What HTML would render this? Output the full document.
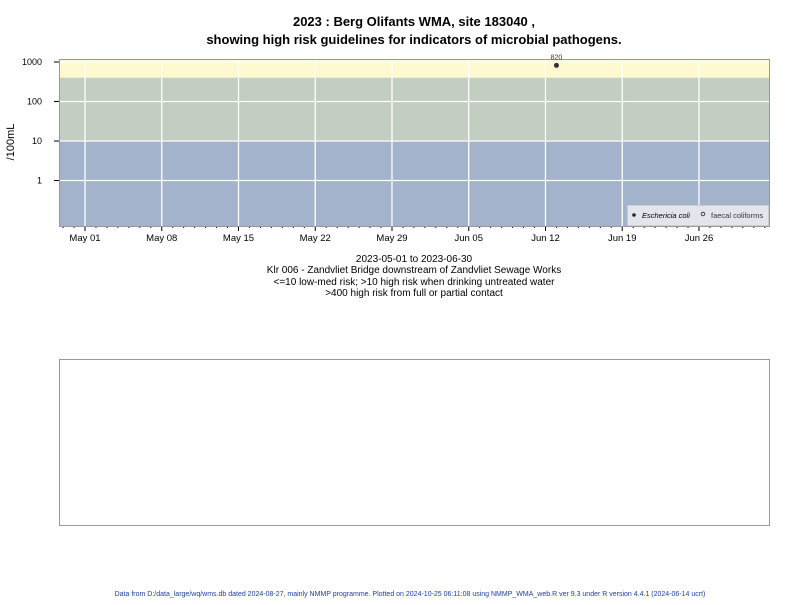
<!DOCTYPE html>
<html><head><meta charset="utf-8"><style>
body{margin:0;background:#fff;font-family:"Liberation Sans",sans-serif}
</style></head><body>
<svg width="800" height="600" xmlns="http://www.w3.org/2000/svg" font-family="Liberation Sans, sans-serif">
<text x="414" y="26" text-anchor="middle" font-size="13" font-weight="bold">2023 : Berg Olifants WMA, site 183040 ,</text>
<text x="414" y="44" text-anchor="middle" font-size="13" font-weight="bold">showing high risk guidelines for indicators of microbial pathogens.</text>
<g id="plot"></g>
<text x="14" y="142" transform="rotate(-90 14 142)" text-anchor="middle" font-size="11">/100mL</text>
<text x="414" y="262" text-anchor="middle" font-size="10">2023-05-01 to 2023-06-30</text>
<text x="414" y="273" text-anchor="middle" font-size="10">Klr 006 - Zandvliet Bridge downstream of Zandvliet Sewage Works</text>
<text x="414" y="285" text-anchor="middle" font-size="10">&lt;=10 low-med risk; &gt;10 high risk when drinking untreated water</text>
<text x="414" y="296" text-anchor="middle" font-size="10">&gt;400 high risk from full or partial contact</text>
<rect x="59.5" y="359.5" width="710" height="166" fill="none" stroke="#999"/>
<text x="410" y="596" text-anchor="middle" font-size="7" fill="#1f3f9f">Data from D:/data_large/wq/wms.db dated 2024-08-27, mainly NMMP programme. Plotted on 2024-10-25 06:11:08 using NMMP_WMA_web.R ver 9.3 under R version 4.4.1 (2024-06-14 ucrt)</text>
</svg>
<script>
const yTicks=[1,10,100,1000];
const yTickLabels=["1","10","100","1000"];
const xTickDays=[0,7,14,21,28,35,42,49,56];
const xTickLabels=["May 01","May 08","May 15","May 22","May 29","Jun 05","Jun 12","Jun 19","Jun 26"];
const ecoliDays=[43];
const ecoliValues=[820];
const ecoliLabels=["820"];
const thresholds=[10,400];
const L=59,R=769,T=59,B=226;
function ys(v){return 180.5-Math.log10(v)*39.5;}
function xs(d){return 85+d*10.964;}
const g=document.getElementById('plot');const NS="http://www.w3.org/2000/svg";
function el(t,a,p){const e=document.createElementNS(NS,t);for(const k in a)e.setAttribute(k,a[k]);(p||g).appendChild(e);return e;}
let r;
r=el('rect',{x:L,y:T,width:R-L,height:ys(thresholds[1])-T,fill:'#fff9d0'});


r=el('rect',{x:L,y:ys(thresholds[1]),width:R-L,height:ys(thresholds[0])-ys(thresholds[1]),fill:'#c3cdc1'});


r=el('rect',{x:L,y:ys(thresholds[0]),width:R-L,height:B-ys(thresholds[0]),fill:'#a2b3cb'});


yTicks.forEach((v,i)=>{const y=ys(v);
 let l=el('line',{x1:L,x2:R,y1:y,y2:y,stroke:'#fff','stroke-width':1.3});
 
 
 l=el('line',{x1:L-5,x2:L,y1:y,y2:y,stroke:'#000'});
 
 
 const t=el('text',{x:L-17,y:y+3,'text-anchor':'end','font-size':9});t.textContent=yTickLabels[i];
 
 });
for(let d=-2;d<=63;d++){const x=xs(d);if(x<L||x>R)continue;
 const major=xTickDays.includes(d);
 const l=el('line',{x1:x,x2:x,y1:B,y2:B+(major?5:2),stroke:'#000'});
 
 }
xTickDays.forEach((d,i)=>{const x=xs(d);
 const l=el('line',{x1:x,x2:x,y1:T,y2:B,stroke:'#fff','stroke-width':1.3});
 
 
 const t=el('text',{x:x,y:B+15,'text-anchor':'middle','font-size':9.5});t.textContent=xTickLabels[i];
 
 });
r=el('rect',{x:L+0.5,y:T+0.5,width:R-L,height:B-T,fill:'none',stroke:'#999'});


ecoliDays.forEach((d,i)=>{const x=xs(d),y=ys(ecoliValues[i]);
 const c=el('circle',{cx:x,cy:y,r:2.5,fill:'#333'});
 
 
 const t=el('text',{x:x,y:y-6,'text-anchor':'middle','font-size':7,fill:'#333'});t.textContent=ecoliLabels[i];
 
 });
const lg=el('g',{});


el('rect',{x:627.5,y:205.5,width:141,height:20,fill:'#e2e6ec',stroke:'#ccc'},lg);
el('circle',{cx:634,cy:215,r:1.8,fill:'#222'},lg);
let t=el('text',{x:642,y:218,'font-size':7.5,'font-style':'italic'},lg);t.textContent='Eschericia coli';


el('circle',{cx:703,cy:214,r:1.8,fill:'none',stroke:'#222','stroke-width':0.8},lg);
t=el('text',{x:711,y:218,'font-size':7.5,fill:'#334'},lg);t.textContent='faecal coliforms';


</script>
</body></html>
